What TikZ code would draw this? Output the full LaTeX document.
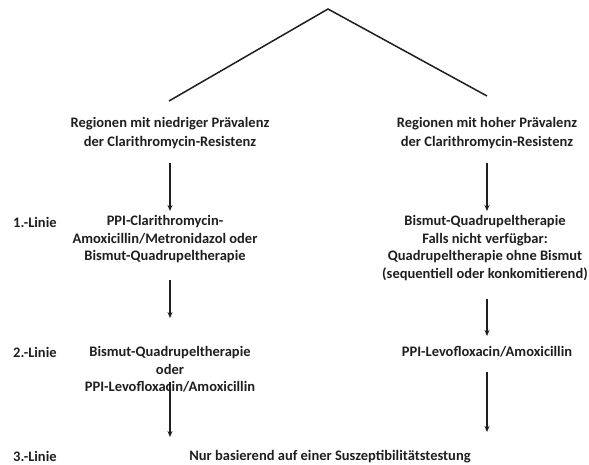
\documentclass[tikz,border=0pt]{standalone}
\usepackage{fontspec}
\setmainfont{Carlito}
\usetikzlibrary{arrows.meta}
\begin{document}
\begin{tikzpicture}[x=1pt,y=-1pt,
  txt/.style={font=\bfseries\fontsize{14.5}{17.5}\selectfont, text=black!88, align=center, inner sep=0pt},
  hdr/.style={txt, font=\bfseries\fontsize{14.5}{19}\selectfont},
  lbl/.style={txt, anchor=west},
  conn/.style={line width=1.5pt, draw=black!88},
  arr/.style={conn, -{Stealth[length=6pt,width=5pt]}}]
\useasboundingbox (0,0) rectangle (589,465);
\fill[white] (0,0) rectangle (589,465);
\coordinate (apex) at (328,9);
\coordinate (lend) at (169,101);
\coordinate (rend) at (487,96);
\draw[conn, line join=miter] (lend) -- (apex) -- (rend);

\node[hdr] (hl) at (170,133.5) {Regionen mit niedriger Prävalenz\\der Clarithromycin-Resistenz};
\node[hdr] (hr) at (487,133.5) {Regionen mit hoher Prävalenz\\der Clarithromycin-Resistenz};

\coordinate (a1ls) at (170,163); \coordinate (a1le) at (170,211);
\coordinate (a1rs) at (487,163); \coordinate (a1re) at (487,211);
\draw[arr] (a1ls) -- (a1le);
\draw[arr] (a1rs) -- (a1re);

\node[lbl] (l1) at (13,222) {1.-Linie};
\node[txt] (b1l) at (165,239.5) {PPI-Clarithromycin-\\Amoxicillin/Metronidazol oder\\Bismut-Quadrupeltherapie};
\node[txt] (b1r) at (485,248) {Bismut-Quadrupeltherapie\\Falls nicht verfügbar:\\Quadrupeltherapie ohne Bismut\\(sequentiell oder konkomitierend)};

\coordinate (a2ls) at (170,280); \coordinate (a2le) at (170,318);
\coordinate (a2rs) at (487,299); \coordinate (a2re) at (487,336);
\draw[arr] (a2ls) -- (a2le);
\draw[arr] (a2rs) -- (a2re);

\node[lbl] (l2) at (13,352) {2.-Linie};
\node[txt] (b2l) at (170,369.5) {Bismut-Quadrupeltherapie\\oder\\PPI-Levofloxacin/Amoxicillin};
\node[txt] (b2r) at (487,352) {PPI-Levofloxacin/Amoxicillin};

\coordinate (a3ls) at (170,382); \coordinate (a3le) at (170,437);
\coordinate (a3rs) at (487,372); \coordinate (a3re) at (487,432);
\draw[arr] (a3ls) -- (a3le);
\draw[arr] (a3rs) -- (a3re);

\node[lbl] (l3) at (13,456) {3.-Linie};
\node[txt] (b3) at (330,457) {Nur basierend auf einer Suszeptibilitätstestung};
\end{tikzpicture}
\end{document}
